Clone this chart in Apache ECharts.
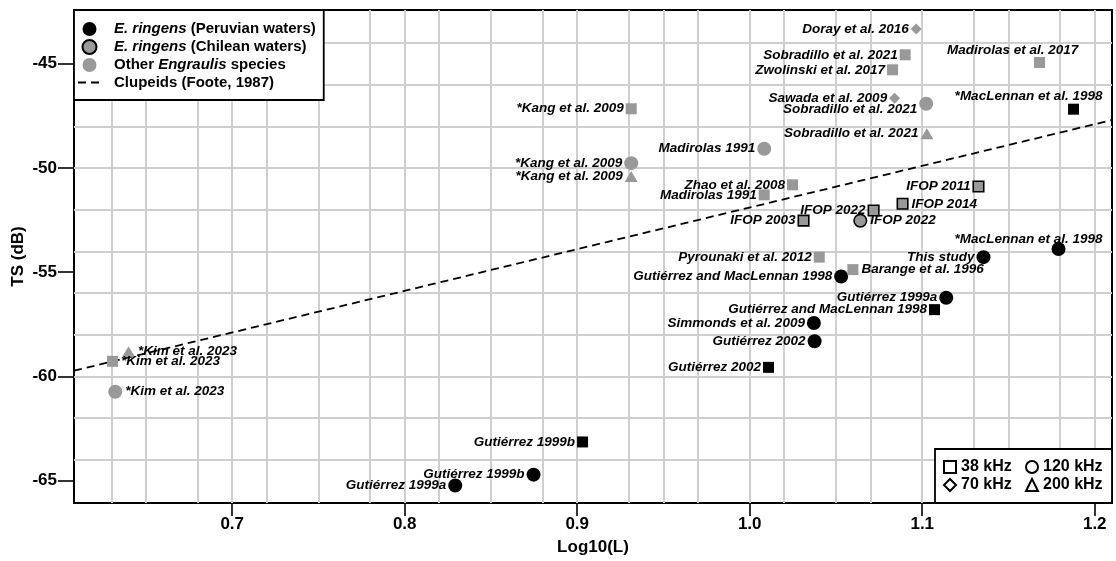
<!DOCTYPE html>
<html>
<head>
<meta charset="utf-8">
<script src="https://cdn.jsdelivr.net/npm/echarts@6/dist/echarts.min.js"></script>
<style>
  html, body { margin: 0; padding: 0; background: #fff; }
  #chart { width: 1116px; height: 561px; }
</style>
</head>
<body>
<div id="chart"></div>
<script>
// Anchovy target strength (TS) against log10 of fish length, by study

const studies = [
  'Gutiérrez 1999a', 'Gutiérrez 1999b', 'Gutiérrez 1999b', 'Gutiérrez 2002', 'Gutiérrez 2002',
  'Simmonds et al. 2009', 'Gutiérrez and MacLennan 1998', 'Gutiérrez 1999a',
  'Gutiérrez and MacLennan 1998', 'This study', '*MacLennan et al. 1998', '*MacLennan et al. 1998',
  'IFOP 2011', 'IFOP 2014', 'IFOP 2022', 'IFOP 2022', 'IFOP 2003',
  'Doray et al. 2016', 'Sobradillo et al. 2021', 'Zwolinski et al. 2017', 'Madirolas et al. 2017',
  'Sawada et al. 2009', 'Sobradillo et al. 2021', 'Sobradillo et al. 2021', 'Madirolas 1991',
  'Zhao et al. 2008', 'Madirolas 1991', 'Pyrounaki et al. 2012', 'Barange et al. 1996',
  '*Kang et al. 2009', '*Kang et al. 2009', '*Kang et al. 2009',
  '*Kim et al. 2023', '*Kim et al. 2023', '*Kim et al. 2023'
];

const logL = [
  0.8293, 0.8747, 0.9031, 1.0109, 1.0376,
  1.0372, 1.1071, 1.1139,
  1.0530, 1.1355, 1.1790, 1.1877,
  1.1326, 1.0886, 1.0718, 1.0641, 1.0312,
  1.0965, 1.0901, 1.0828, 1.1680,
  1.0840, 1.1023, 1.1027, 1.0084,
  1.0248, 1.0084, 1.0403, 1.0598,
  0.9313, 0.9313, 0.9313,
  0.6306, 0.6399, 0.6322
];

const tsDb = [
  -65.24, -64.72, -63.15, -59.57, -58.32,
  -57.44, -56.80, -56.23,
  -55.21, -54.28, -53.89, -47.18,
  -50.89, -51.72, -52.04, -52.53, -52.53,
  -43.33, -44.57, -45.29, -44.94,
  -46.65, -46.92, -48.36, -49.08,
  -50.81, -51.29, -54.28, -54.88,
  -47.16, -49.77, -50.41,
  -59.28, -58.82, -60.74
];

// peru = E. ringens (Peruvian waters), chile = E. ringens (Chilean waters), other = other Engraulis
const region = [
  'peru', 'peru', 'peru', 'peru', 'peru',
  'peru', 'peru', 'peru',
  'peru', 'peru', 'peru', 'peru',
  'chile', 'chile', 'chile', 'chile', 'chile',
  'other', 'other', 'other', 'other',
  'other', 'other', 'other', 'other',
  'other', 'other', 'other', 'other',
  'other', 'other', 'other',
  'other', 'other', 'other'
];

const freqKHz = [
  120, 120, 38, 38, 120,
  120, 38, 120,
  120, 120, 120, 38,
  38, 38, 38, 120, 38,
  70, 38, 38, 38,
  70, 120, 200, 120,
  38, 38, 38, 38,
  38, 120, 200,
  38, 200, 120
];

// Clupeid reference line (Foote, 1987), end points across the plotted range
const clupeidLogL = [0.6083, 1.21];
const clupeidTS = [-59.73, -47.70];

const xTicks = [0.7, 0.8, 0.9, 1.0, 1.1, 1.2];
const yTicks = [-65, -60, -55, -50, -45];
const xGrid = [0.625, 0.65, 0.675, 0.7, 0.725, 0.75, 0.775, 0.8, 0.825, 0.85, 0.875, 0.9,
  0.925, 0.95, 0.975, 1.0, 1.025, 1.05, 1.075, 1.1, 1.125, 1.15, 1.175, 1.2];
const yGrid = [-64, -62, -60, -58, -56, -54, -52, -50, -48, -46, -44];

const freqLegend = ['38 kHz', '120 kHz', '70 kHz', '200 kHz'];

// ---- styling ----
const FONT = 'Liberation Sans, Arial, Helvetica, sans-serif';
const GREY = '#999999';

// where each study name sits relative to its marker
const labelPlacement = [
  'left', 'left', 'left', 'left', 'left',
  'left', 'left', 'left',
  'left', 'left', 'aboveC', 'aboveB',
  'left', 'right', 'left', 'right', 'left',
  'left', 'left', 'left', 'aboveA',
  'left', 'leftLow', 'left', 'left',
  'left', 'left', 'left', 'right',
  'left', 'left', 'left',
  'right', 'right', 'right'
];
const placementStyle = {
  left: { position: 'left', distance: 2 },
  right: { position: 'right', distance: 3 },
  leftLow: { position: 'left', distance: 2, offset: [0, 6] },
  aboveA: { position: 'top', distance: 0, offset: [-27, 0] },
  aboveB: { position: 'top', distance: 0, offset: [-45, 0] },
  aboveC: { position: 'top', distance: 0, offset: [-30, 4] }
};

const symbolFor = { 38: 'rect', 70: 'diamond', 120: 'circle', 200: 'triangle' };
const sizeFor = { 38: 11, 70: 11, 120: 14, 200: [13, 11] };
const sizeForOutlined = { 38: 10.5, 70: 10, 120: 12.5, 200: [12, 10] };

const groupStyle = {
  peru: { color: '#000000', borderColor: '#000000', borderWidth: 0, opacity: 1 },
  chile: { color: GREY, borderColor: '#000000', borderWidth: 1.6, opacity: 1 },
  other: { color: GREY, borderColor: GREY, borderWidth: 0, opacity: 1 }
};
const groupName = { peru: 'Peruvian', chile: 'Chilean', other: 'Other' };

function pointsOf(key) {
  const out = [];
  for (let i = 0; i < studies.length; i++) {
    if (region[i] !== key) continue;
    const f = freqKHz[i];
    out.push({
      name: studies[i],
      value: [logL[i], tsDb[i]],
      symbol: symbolFor[f],
      symbolSize: key === 'chile' ? sizeForOutlined[f] : sizeFor[f],
      label: placementStyle[labelPlacement[i]]
    });
  }
  return out;
}

const pointLabel = {
  show: true,
  formatter: '{b}',
  color: '#000',
  opacity: 1,
  fontFamily: FONT,
  fontSize: 13.5,
  fontWeight: 'bold',
  fontStyle: 'italic'
};

const groupSeries = ['peru', 'chile', 'other'].map(function (key) {
  return {
    name: groupName[key],
    type: 'scatter',
    z: 4,
    symbol: 'circle',
    itemStyle: groupStyle[key],
    label: pointLabel,
    emphasis: { disabled: true },
    data: pointsOf(key)
  };
});

const freqSeries = freqLegend.map(function (name) {
  const f = parseInt(name, 10);
  return {
    name: name,
    type: 'scatter',
    symbol: symbolFor[f],
    itemStyle: { color: '#ffffff', borderColor: '#000000', borderWidth: 1.5, opacity: 1 },
    data: []
  };
});

const gridSeries = {
  name: 'grid',
  type: 'scatter',
  z: 1,
  silent: true,
  data: [],
  markLine: {
    z: 1,
    silent: true,
    symbol: ['none', 'none'],
    label: { show: false },
    animation: false,
    lineStyle: { color: '#cfcfcf', width: 2, type: 'solid', opacity: 1 },
    emphasis: { disabled: true },
    data: xGrid.map(function (v) { return { xAxis: v }; })
      .concat(yGrid.map(function (v) { return { yAxis: v }; }))
  }
};

const clupeidSeries = {
  name: 'Clupeids',
  type: 'line',
  z: 3,
  symbol: 'none',
  silent: true,
  lineStyle: { color: '#000', width: 1.8, type: [8, 5] },
  itemStyle: { color: '#000' },
  data: clupeidLogL.map(function (x, i) { return [x, clupeidTS[i]]; })
};

const legendText = {
  Peruvian: '{i|E. ringens} (Peruvian waters)',
  Chilean: '{i|E. ringens} (Chilean waters)',
  Other: 'Other {i|Engraulis} species',
  Clupeids: 'Clupeids (Foote, 1987)'
};

const chart = echarts.init(document.getElementById('chart'), null, { renderer: 'canvas' });
chart.setOption({
  animation: false,
  backgroundColor: '#ffffff',
  textStyle: { fontFamily: FONT },
  grid: {
    left: 74, right: 4, top: 10, bottom: 58,
    show: true, borderColor: '#000', borderWidth: 2, backgroundColor: 'transparent',
    outerBoundsMode: 'none'
  },
  xAxis: {
    type: 'value',
    min: 0.6083, max: 1.21,
    axisLine: { show: false },
    splitLine: { show: false },
    axisTick: { show: true, customValues: xTicks, length: 13, lineStyle: { color: '#000', width: 1.6 } },
    axisLabel: {
      customValues: xTicks, margin: 13, color: '#000', fontSize: 17, fontWeight: 'bold',
      formatter: function (v) { return v.toFixed(1); }
    },
    name: 'Log10(L)', nameLocation: 'middle', nameGap: 36, nameMoveOverlap: false,
    nameTextStyle: { color: '#000', fontSize: 17, fontWeight: 'bold' }
  },
  yAxis: {
    type: 'value',
    min: -66.08, max: -42.42,
    axisLine: { show: false },
    splitLine: { show: false },
    axisTick: { show: true, customValues: yTicks, length: 16, lineStyle: { color: '#000', width: 1.6 } },
    axisLabel: {
      customValues: yTicks, margin: 17, color: '#000', fontSize: 17, fontWeight: 'bold'
    },
    name: 'TS (dB)', nameLocation: 'middle', nameGap: 47, nameRotate: 90, nameMoveOverlap: false,
    nameTextStyle: { color: '#000', fontSize: 17, fontWeight: 'bold' }
  },
  legend: [
    {
      z: 10,
      left: 74, top: 10,
      orient: 'vertical',
      selectedMode: false,
      backgroundColor: '#fff',
      borderColor: '#000', borderWidth: 1.8,
      padding: [11.5, 8, 10, 3],
      itemWidth: 23, itemHeight: 14, itemGap: 2.5,
      data: [
        { name: 'Peruvian', icon: 'circle' },
        { name: 'Chilean', icon: 'circle' },
        { name: 'Other', icon: 'circle' },
        { name: 'Clupeids', itemStyle: { color: 'rgba(0,0,0,0)', borderColor: 'rgba(0,0,0,0)', borderWidth: 0 } }
      ],
      formatter: function (n) { return legendText[n]; },
      textStyle: {
        color: '#000', fontSize: 15, fontWeight: 'bold', fontFamily: FONT,
        lineHeight: 14, padding: [0, 0, 0, 8],
        rich: { i: { fontStyle: 'italic', fontWeight: 'bold', fontSize: 15, lineHeight: 14, fontFamily: FONT, color: '#000' } }
      }
    },
    {
      z: 10,
      right: 4, bottom: 58,
      orient: 'horizontal',
      width: 170,
      selectedMode: false,
      backgroundColor: '#fff',
      borderColor: '#000', borderWidth: 1.8,
      padding: [10, 7, 10, 8],
      itemWidth: 12, itemHeight: 12, itemGap: 2,
      data: [
        { name: '38 kHz', icon: 'rect' },
        { name: '120 kHz', icon: 'circle' },
        { name: '70 kHz', icon: 'diamond' },
        { name: '200 kHz', icon: 'triangle' }
      ],
      textStyle: {
        color: '#000', fontSize: 16, fontWeight: 'bold', fontFamily: FONT,
        lineHeight: 14, width: 62
      }
    }
  ],
  series: [gridSeries, clupeidSeries].concat(groupSeries).concat(freqSeries)
});
</script>
</body>
</html>
